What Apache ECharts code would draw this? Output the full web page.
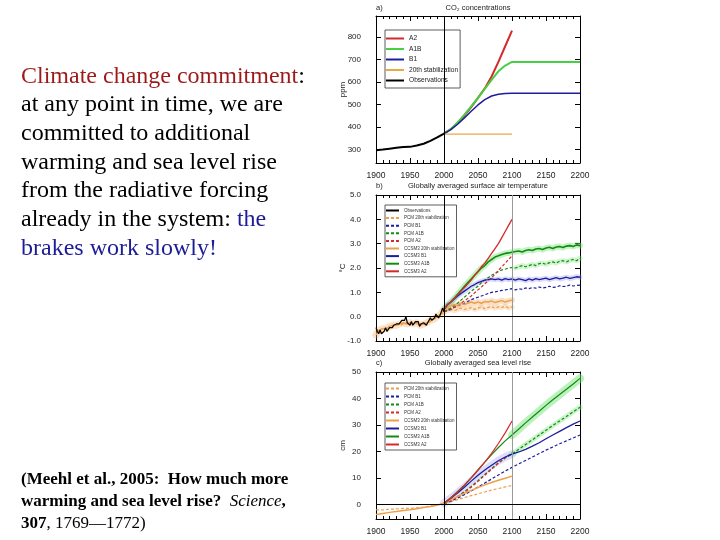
<!DOCTYPE html>
<html><head><meta charset="utf-8">
<script src="https://cdn.jsdelivr.net/npm/echarts@6/dist/echarts.min.js"></script>
<style>html,body{margin:0;padding:0;background:#fff}#c{width:720px;height:540px}</style>
</head><body><div id="c"></div>
<script>
// ---------- year lists ----------
const yrsObs = [1900,1902,1904,1906,1908,1910,1912,1914,1916,1918,1920,1922,1924,1926,1928,1930,1932,1934,1936,1938,1940,1942,1944,1946,1948,1950,1952,1954,1956,1958,1960,1962,1964,1966,1968,1970,1972,1974,1976,1978,1980,1982,1984,1986,1988,1990,1992,1994,1996,1998,2000];
const yrsHist10 = [1900,1910,1920,1930,1940,1950,1960,1970,1980,1990,2000];
const yrsHist5 = [1900,1905,1910,1915,1920,1925,1930,1935,1940,1945,1950,1955,1960,1965,1970,1975,1980,1985,1990,1995,2000];
const yrsFut10 = [2000,2010,2020,2030,2040,2050,2060,2070,2080,2090,2100];
const yrsExt10 = [2110,2120,2130,2140,2150,2160,2170,2180,2190,2200];
const yrsFut5 = [2000,2005,2010,2015,2020,2025,2030,2035,2040,2045,2050,2055,2060,2065,2070,2075,2080,2085,2090,2095,2100];
const yrsExt5 = [2105,2110,2115,2120,2125,2130,2135,2140,2145,2150,2155,2160,2165,2170,2175,2180,2185,2190,2195,2200];
const yrsFlat = [2100,2200];
const yrsStab = [2000,2100];

// ---------- panel a: CO2 (ppm) ----------
const co2Obs = [296,299,303,307,310,311,317,325,338,353,370];
const co2A2 = [370,390,418,450,488,530,572,625,690,760,830];
const co2A1B = [370,390,420,455,492,530,570,610,648,674,690];
const co2A1BFlat = [690,690];
const co2B1 = [370,388,412,440,470,498,522,538,546,549,550];
const co2B1Flat = [550,550];
const co2Stab = [368,368];

// ---------- panel b: temperature (°C) ----------
const tObs = [-0.45,-0.6,-0.7,-0.55,-0.7,-0.65,-0.6,-0.45,-0.6,-0.55,-0.45,-0.5,-0.45,-0.35,-0.4,-0.3,-0.35,-0.3,-0.3,-0.15,-0.1,-0.15,0.0,-0.25,-0.3,-0.35,-0.2,-0.35,-0.4,-0.2,-0.25,-0.2,-0.4,-0.3,-0.3,-0.25,-0.3,-0.35,-0.4,-0.15,-0.05,-0.15,-0.1,-0.05,0.1,0.15,-0.05,0.05,0.1,0.35,0.2];
const tCcsmHist = [-0.75,-0.55,-0.5,-0.5,-0.4,-0.35,-0.35,-0.3,-0.25,-0.3,-0.25,-0.3,-0.25,-0.35,-0.3,-0.25,-0.15,-0.1,0.0,0.1,0.3];
const tPcmHist = [-0.5,-0.6,-0.45,-0.55,-0.45,-0.4,-0.3,-0.35,-0.3,-0.25,-0.3,-0.25,-0.3,-0.3,-0.25,-0.3,-0.2,-0.1,-0.05,0.05,0.2];
const tCcsmStab = [0.3,0.4,0.45,0.5,0.45,0.55,0.5,0.55,0.6,0.55,0.6,0.55,0.62,0.6,0.65,0.58,0.62,0.66,0.6,0.65,0.68];
const tPcmStab = [0.2,0.25,0.3,0.25,0.3,0.35,0.3,0.32,0.38,0.3,0.35,0.4,0.33,0.38,0.42,0.35,0.4,0.38,0.43,0.36,0.4];
const tCcsmA2 = [0.3,0.5,0.6,0.75,0.9,1.05,1.2,1.35,1.5,1.7,1.85,2.05,2.2,2.4,2.6,2.8,3.0,3.25,3.5,3.75,4.0];
const tCcsmA1B = [0.3,0.5,0.6,0.75,0.92,1.08,1.25,1.4,1.55,1.7,1.85,2.0,2.1,2.25,2.35,2.45,2.5,2.55,2.6,2.62,2.65];
const tCcsmA1BExt = [2.68,2.7,2.66,2.72,2.75,2.72,2.78,2.8,2.76,2.82,2.85,2.8,2.86,2.88,2.84,2.9,2.92,2.88,2.95,2.92];
const tCcsmB1 = [0.3,0.48,0.6,0.72,0.85,0.95,1.05,1.15,1.25,1.32,1.4,1.45,1.5,1.52,1.55,1.52,1.55,1.5,1.56,1.52,1.55];
const tCcsmB1Ext = [1.5,1.55,1.52,1.48,1.55,1.5,1.56,1.52,1.55,1.58,1.52,1.56,1.6,1.55,1.58,1.62,1.57,1.6,1.64,1.62];
const tPcmA2 = [0.2,0.25,0.3,0.38,0.45,0.55,0.65,0.75,0.85,0.98,1.1,1.22,1.35,1.48,1.6,1.75,1.9,2.05,2.2,2.35,2.5];
const tPcmA1B = [0.2,0.28,0.35,0.45,0.55,0.68,0.8,0.92,1.05,1.15,1.25,1.4,1.5,1.6,1.7,1.78,1.85,1.92,1.95,2.0,2.02];
const tPcmA1BExt = [2.0,2.05,2.1,2.05,2.1,2.15,2.1,2.18,2.2,2.15,2.22,2.25,2.2,2.28,2.3,2.25,2.32,2.35,2.3,2.4];
const tPcmB1 = [0.2,0.25,0.3,0.38,0.45,0.5,0.55,0.62,0.7,0.75,0.8,0.85,0.9,0.95,1.0,1.02,1.05,1.08,1.1,1.12,1.15];
const tPcmB1Ext = [1.1,1.15,1.12,1.18,1.15,1.2,1.17,1.22,1.18,1.2,1.25,1.2,1.22,1.27,1.24,1.25,1.3,1.26,1.28,1.3];

// ---------- panel c: sea level (cm) ----------
const sCcsmHist = [-3.8,-3.4,-3.0,-2.7,-2.3,-2.0,-1.6,-1.2,-0.8,-0.3,0.5];
const sPcmHist = [-2.0,-2.1,-1.8,-1.7,-1.5,-1.5,-1.3,-1.0,-0.6,-0.1,0.5];
const sCcsmStab = [0.5,1.8,3.0,4.2,5.3,6.4,7.4,8.3,9.1,9.9,10.7];
const sPcmStab = [0.3,1.0,1.8,2.6,3.3,4.0,4.7,5.4,6.0,6.6,7.2];
const sCcsmA2 = [0.5,2.5,4.8,7.3,10.0,13.0,16.0,19.3,23.0,27.0,31.5];
const sCcsmA1B = [0.5,2.5,4.8,7.3,10.0,13.0,16.0,18.8,21.5,24.0,26.2];
const sCcsmA1BExt = [28.5,30.8,33.0,35.2,37.4,39.5,41.5,43.5,45.5,47.6];
const sCcsmB1 = [0.5,2.3,4.3,6.5,8.8,11.0,13.0,14.8,16.5,17.9,19.0];
const sCcsmB1Ext = [19.8,20.8,22.0,23.3,24.8,26.2,27.6,29.0,30.3,31.5];
const sPcmA2 = [0.3,1.4,2.8,4.5,6.5,8.7,11.0,13.3,15.6,17.6,19.5];
const sPcmA1B = [0.3,1.5,3.0,4.8,6.8,9.0,11.3,13.5,15.7,17.5,19.0];
const sPcmA1BExt = [20.8,22.6,24.4,26.2,28.0,29.8,31.5,33.2,35.0,36.7];
const sPcmB1 = [0.3,1.2,2.4,3.7,5.1,6.6,8.1,9.6,11.1,12.6,14.0];
const sPcmB1Ext = [15.3,16.6,17.9,19.2,20.5,21.7,22.9,24.0,25.1,26.2];

// ---------- tick labels ----------
const xTicks = [1900,1950,2000,2050,2100,2150,2200];
const co2Ticks = [300,400,500,600,700,800];
const tTicks = [-1,0,1,2,3,4,5];
const sTicks = [0,10,20,30,40,50];

// ---------- names ----------
const legA = ['A2','A1B','B1','20th stabilization','Observations'];
const legB = ['Observations','PCM 20th stabilization','PCM B1','PCM A1B','PCM A2','CCSM3 20th stabilization','CCSM3 B1','CCSM3 A1B','CCSM3 A2'];
const legC = ['PCM 20th stabilization','PCM B1','PCM A1B','PCM A2','CCSM3 20th stabilization','CCSM3 B1','CCSM3 A1B','CCSM3 A2'];

// ---------- build ----------
const pairs = (xs, ys) => xs.map((x, i) => [x, ys[i]]);
const C = {red:'#d42a2a', green:'#2fb52f', dgreen:'#138a13', blue:'#1c1ca0', orange:'#eda04a', black:'#000'};
function ln(name, g, data, color, width, dash, extra) {
  return Object.assign({
    type:'line', name, xAxisIndex:g, yAxisIndex:g, data, symbol:'none', silent:true,
    animation:false, clip:true,
    lineStyle:{color, width, type: dash ? [3,2] : 'solid'}, itemStyle:{color}
  }, extra || {});
}
function band(g, data, color, width) {
  return {type:'line', name:'_band', xAxisIndex:g, yAxisIndex:g, data, symbol:'none', silent:true, animation:false,
    lineStyle:{color, width, opacity:1, cap:'round', join:'round'}, z:1};
}
const FONT = "'Liberation Sans Narrow','Liberation Sans',Arial,sans-serif";
const grids = [
  {left:376, top:16, width:204, height:147},
  {left:376, top:195, width:204, height:146},
  {left:376, top:372, width:204, height:147}
];
const yr = [{min:239,max:895,ticks:co2Ticks,name:'ppm',fmt:v=>String(v)},
            {min:-1,max:5,ticks:tTicks,name:'\u00b0C',fmt:v=>v.toFixed(1)},
            {min:-5.5,max:50,ticks:sTicks,name:'cm',fmt:v=>String(v)}];
const xAxes = [], yAxes = [];
for (let g = 0; g < 3; g++) {
  xAxes.push({type:'value', gridIndex:g, min:1900, max:2200, interval:50, position:'bottom',
    axisLine:{show:true, onZero:false, lineStyle:{color:'#000', width:1}},
    axisTick:{show:true, inside:true, length:5, lineStyle:{color:'#000'}},
    minorTick:{show:true, splitNumber:5, length:3, lineStyle:{color:'#000'}},
    splitLine:{show:false}, minorSplitLine:{show:false},
    axisLabel:{show:true, margin:8, fontSize:8.5, color:'#222', fontFamily:FONT, customValues:xTicks, formatter:v=>String(v)}});
  yAxes.push({type:'value', gridIndex:g, min:yr[g].min, max:yr[g].max, position:'left',
    name:yr[g].name, nameLocation:'middle', nameGap:29, nameRotate:90, nameMoveOverlap:false,
    nameTextStyle:{fontSize:8, color:'#222', fontFamily:FONT},
    axisLine:{show:true, onZero:false, lineStyle:{color:'#000'}},
    axisTick:{show:true, inside:true, length:5, customValues:yr[g].ticks, lineStyle:{color:'#000'}},
    axisLabel:{show:true, margin:15, fontSize:8, color:'#222', fontFamily:FONT, customValues:yr[g].ticks, formatter:yr[g].fmt},
    splitLine:{show:false}});
}
for (let g = 0; g < 3; g++) {
  xAxes.push({type:'value', gridIndex:g, min:1900, max:2200, interval:50, position:'top',
    axisLine:{show:true, onZero:false, lineStyle:{color:'#000'}},
    axisTick:{show:true, inside:true, length:5, lineStyle:{color:'#000'}},
    minorTick:{show:true, splitNumber:5, length:3, lineStyle:{color:'#000'}},
    axisLabel:{show:false}, splitLine:{show:false}});
  yAxes.push({type:'value', gridIndex:g, min:yr[g].min, max:yr[g].max, position:'right',
    axisLine:{show:true, onZero:false, lineStyle:{color:'#000'}},
    axisTick:{show:true, inside:true, length:5, customValues:yr[g].ticks, lineStyle:{color:'#000'}},
    axisLabel:{show:false}, splitLine:{show:false}});
}
function vlines(g, withGray, zero) {
  const d = [{xAxis:2000, lineStyle:{color:'#000', width:1, type:'solid'}}];
  if (withGray) d.push({xAxis:2100, lineStyle:{color:'#999', width:1, type:'solid'}});
  if (zero) d.push({yAxis:0, lineStyle:{color:'#000', width:1, type:'solid'}});
  return {type:'line', name:'_ref', xAxisIndex:g, yAxisIndex:g, data:[], silent:true, animation:false,
    markLine:{silent:true, symbol:'none', label:{show:false}, animation:false, data:d}, z:2};
}
const histFut = (hy, hv, fy, fv) => pairs(hy, hv).concat(pairs(fy.slice(1), fv.slice(1)));
const futExt = (fy, fv, ey, ev) => pairs(fy, fv).concat(pairs(ey, ev));

const series = [
  // panel a
  vlines(0, false, false),
  ln('A2', 0, pairs(yrsFut10, co2A2), C.red, 2),
  ln('A1B', 0, pairs(yrsFut10, co2A1B).concat(pairs(yrsFlat, co2A1BFlat)), '#45d045', 2),
  ln('B1', 0, pairs(yrsFut10, co2B1).concat(pairs(yrsFlat, co2B1Flat)), C.blue, 1.5),
  ln('20th stabilization', 0, pairs(yrsStab, co2Stab), '#e8a848', 1.2),
  ln('Observations', 0, pairs(yrsHist10, co2Obs), C.black, 2),
  // panel b bands
  band(1, pairs(yrsHist5, tCcsmHist), 'rgba(240,170,100,0.35)', 7),
  band(1, pairs(yrsFut5, tCcsmStab), 'rgba(240,170,100,0.35)', 6),
  band(1, pairs(yrsFut5, tPcmStab), 'rgba(240,170,100,0.3)', 5),
  band(1, futExt(yrsFut5, tCcsmA1B, yrsExt5, tCcsmA1BExt), 'rgba(120,230,120,0.45)', 6),
  band(1, pairs(yrsExt5, tPcmA1BExt), 'rgba(120,230,120,0.35)', 5),
  band(1, futExt(yrsFut5, tCcsmB1, yrsExt5, tCcsmB1Ext), 'rgba(150,150,240,0.35)', 5),
  vlines(1, true, true),
  ln('Observations', 1, pairs(yrsObs, tObs), C.black, 1.2, false, {z:5}),
  ln('PCM 20th stabilization', 1, histFut(yrsHist5, tPcmHist, yrsFut5, tPcmStab), C.orange, 1.2, true),
  ln('PCM B1', 1, futExt(yrsFut5, tPcmB1, yrsExt5, tPcmB1Ext), C.blue, 1.2, true),
  ln('PCM A1B', 1, futExt(yrsFut5, tPcmA1B, yrsExt5, tPcmA1BExt), C.dgreen, 1.2, true),
  ln('PCM A2', 1, pairs(yrsFut5, tPcmA2), C.red, 1.2, true),
  ln('CCSM3 20th stabilization', 1, histFut(yrsHist5, tCcsmHist, yrsFut5, tCcsmStab), C.orange, 1.5),
  ln('CCSM3 B1', 1, futExt(yrsFut5, tCcsmB1, yrsExt5, tCcsmB1Ext), C.blue, 1.3),
  ln('CCSM3 A1B', 1, futExt(yrsFut5, tCcsmA1B, yrsExt5, tCcsmA1BExt), C.dgreen, 1.6),
  ln('CCSM3 A2', 1, pairs(yrsFut5, tCcsmA2), C.red, 1.3),
  // panel c bands
  band(2, pairs(yrsFut10, sCcsmB1), 'rgba(160,160,245,0.35)', 8),
  band(2, pairs([2100].concat(yrsExt10), [sCcsmA1B[10]].concat(sCcsmA1BExt)), 'rgba(120,230,120,0.5)', 8),
  band(2, pairs([2100].concat(yrsExt10), [sPcmA1B[10]].concat(sPcmA1BExt)), 'rgba(120,230,120,0.4)', 5),
  vlines(2, true, true),
  ln('PCM 20th stabilization', 2, histFut(yrsHist10, sPcmHist, yrsFut10, sPcmStab), C.orange, 1.2, true),
  ln('PCM B1', 2, futExt(yrsFut10, sPcmB1, yrsExt10, sPcmB1Ext), C.blue, 1.2, true),
  ln('PCM A1B', 2, futExt(yrsFut10, sPcmA1B, yrsExt10, sPcmA1BExt), C.dgreen, 1.2, true),
  ln('PCM A2', 2, pairs(yrsFut10, sPcmA2), C.red, 1.2, true),
  ln('CCSM3 20th stabilization', 2, histFut(yrsHist10, sCcsmHist, yrsFut10, sCcsmStab), C.orange, 1.5),
  ln('CCSM3 B1', 2, futExt(yrsFut10, sCcsmB1, yrsExt10, sCcsmB1Ext), C.blue, 1.3),
  ln('CCSM3 A1B', 2, futExt(yrsFut10, sCcsmA1B, yrsExt10, sCcsmA1BExt), C.dgreen, 1.2),
  ln('CCSM3 A2', 2, pairs(yrsFut10, sCcsmA2), C.red, 1.2)
];
const legBase = {orient:'vertical', selectedMode:false, backgroundColor:'#fff', borderColor:'#333', borderWidth:0.8,
  align:'left', itemStyle:{opacity:0}};
const legends = [
  Object.assign({}, legBase, {data:legA, left:385, top:30, itemGap:3.5, itemHeight:7.5, itemWidth:18, padding:[5,2,4,0],
    textStyle:{fontSize:6.6, color:'#222', fontFamily:FONT}}),
  Object.assign({}, legBase, {data:legB, left:385, top:205, itemGap:2.6, itemHeight:5, itemWidth:13, padding:[3,2,3,0],
    textStyle:{fontSize:4.5, color:'#333', fontFamily:FONT}}),
  Object.assign({}, legBase, {data:legC, left:385, top:383, itemGap:3, itemHeight:5, itemWidth:13, padding:[3,2,3,0],
    textStyle:{fontSize:4.5, color:'#333', fontFamily:FONT}})
];
const SERIF = "'Liberation Serif','Times New Roman',serif";
const titleText = (x, y, t, align) => ({type:'text', x, y, silent:true,
  style:{text:t, fontSize:7.5, fontFamily:FONT, fill:'#222', align:align||'center', verticalAlign:'middle'}});
const graphics = [
  {type:'text', x:21, y:62, silent:true, style:{
    text:'{r|Climate change commitment}{k|:}\n{k|at any point in time, we are}\n{k|committed to additional}\n{k|warming and sea level rise}\n{k|from the radiative forcing}\n{k|already in the system: }{b|the}\n{b|brakes work slowly!}',
    fontFamily:SERIF, fontSize:24, lineHeight:28.7, verticalAlign:'top',
    rich:{r:{fill:'#9e1a1a', fontFamily:SERIF, fontSize:24, lineHeight:28.7},
          k:{fill:'#000', fontFamily:SERIF, fontSize:24, lineHeight:28.7},
          b:{fill:'#1c1c96', fontFamily:SERIF, fontSize:24, lineHeight:28.7}}}},
  {type:'text', x:21, y:469, silent:true, style:{
    text:'{cb|(Meehl et al., 2005:  How much more}\n{cb|warming and sea level rise?  }{ci|Science}{cb|,}\n{cb|307}{c|, 1769\u20141772)}',
    fontFamily:SERIF, fontSize:17, lineHeight:22, verticalAlign:'top',
    rich:{cb:{fill:'#000', fontFamily:SERIF, fontSize:17, fontWeight:'bold', lineHeight:22},
          ci:{fill:'#000', fontFamily:SERIF, fontSize:17, fontStyle:'italic', lineHeight:22},
          c:{fill:'#000', fontFamily:SERIF, fontSize:17, lineHeight:22}}}},
  titleText(376, 8, 'a)', 'left'),
  titleText(478, 8, 'CO\u2082 concentrations'),
  titleText(376, 186, 'b)', 'left'),
  titleText(478, 186, 'Globally averaged surface air temperature'),
  titleText(376, 363, 'c)', 'left'),
  titleText(478, 363, 'Globally averaged sea level rise')
];
const chart = echarts.init(document.getElementById('c'), null, {renderer:'canvas'});
chart.setOption({animation:false, backgroundColor:'#fff', grid:grids, xAxis:xAxes, yAxis:yAxes,
  legend:legends, series, graphic:graphics});
</script></body></html>
